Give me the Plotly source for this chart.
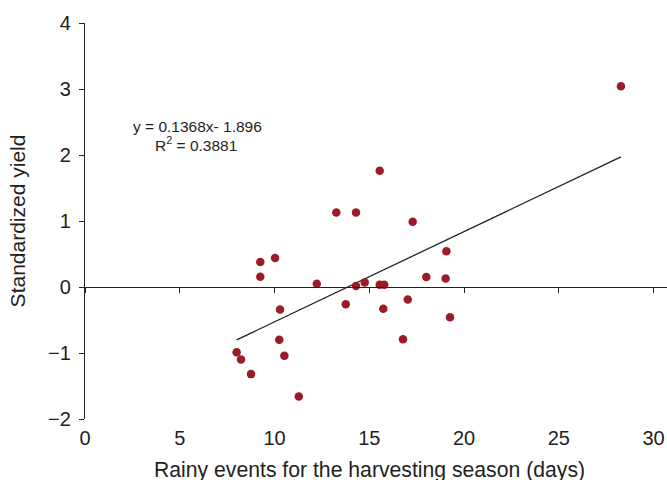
import plotly.graph_objects as go

# Rainy events during the harvesting season (days) vs. standardized yield
rain_days = [8.00, 8.23, 8.76, 9.25, 9.25, 10.03, 10.25, 10.29, 10.52, 11.28,
             12.23, 13.26, 13.76, 14.30, 14.30, 14.76, 15.55, 15.55, 15.74, 15.79,
             16.78, 17.03, 17.29, 18.01, 19.03, 19.07, 19.26, 28.28]
std_yield = [-0.99, -1.10, -1.32, 0.38, 0.155, 0.44, -0.80, -0.34, -1.04, -1.66,
             0.05, 1.13, -0.26, 1.13, 0.015, 0.07, 1.76, 0.035, -0.33, 0.035,
             -0.79, -0.19, 0.99, 0.15, 0.13, 0.54, -0.46, 3.04]

# Linear fit reported on the chart
slope = 0.1368
intercept = -1.896
r_squared = 0.3881

x_ticks = [0, 5, 10, 15, 20, 25, 30]
y_ticks = [-2, -1, 0, 1, 2, 3, 4]

FONT = "Liberation Sans, Arial, sans-serif"
INK = "#231f20"
DOT = "#9b1c26"

x_fit = [min(rain_days), max(rain_days)]
y_fit = [slope * v + intercept for v in x_fit]

fig = go.Figure()
fig.add_trace(go.Scatter(
    x=x_fit, y=y_fit, mode="lines",
    line=dict(color=INK, width=1.3),
    hoverinfo="skip", showlegend=False,
))
fig.add_trace(go.Scatter(
    x=rain_days, y=std_yield, mode="markers",
    marker=dict(color=DOT, size=8.5, line=dict(width=0)),
    showlegend=False,
))
# carrier trace for the axis drawn through y = 0
fig.add_trace(go.Scatter(
    x=[0], y=[0], xaxis="x2", mode="markers",
    marker=dict(opacity=0), hoverinfo="skip", showlegend=False,
))

x_max = 30.71
y_min, y_max = -2, 4

fig.update_layout(
    width=667, height=480,
    margin=dict(l=85, r=0, t=23, b=61),
    paper_bgcolor="white", plot_bgcolor="white",
    font=dict(family=FONT, color=INK),
    xaxis=dict(
        range=[0, x_max], tickvals=x_ticks, showline=False, ticks="",
        showgrid=False, zeroline=False, ticklabelstandoff=5,
        tickfont=dict(size=20, family=FONT, color=INK),
    ),
    xaxis2=dict(
        overlaying="x", matches="x", anchor="free",
        position=(0 - y_min) / (y_max - y_min),
        range=[0, x_max], tickvals=x_ticks, showticklabels=False,
        showline=True, linecolor=INK, linewidth=1.2,
        ticks="outside", ticklen=5, tickwidth=1.2, tickcolor=INK,
        showgrid=False, zeroline=False,
    ),
    yaxis=dict(
        range=[y_min, y_max], tickvals=y_ticks, showline=True,
        linecolor=INK, linewidth=1.2, ticks="outside", ticklen=5,
        tickwidth=1.2, tickcolor=INK, showgrid=False, zeroline=False,
        ticklabelstandoff=4,
        tickfont=dict(size=20, family=FONT, color=INK),
        title=dict(text="Standardized yield", standoff=16,
                   font=dict(size=21, family=FONT, color=INK)),
    ),
    annotations=[
        dict(x=15, y=-0.128, xref="x", yref="paper", yanchor="middle",
             text="Rainy events for the harvesting season (days)",
             showarrow=False, font=dict(size=21.2, family=FONT, color=INK)),
        dict(x=5.96, y=2.43, xref="x", yref="y",
             text=f"y = {slope}x- {abs(intercept)}", showarrow=False,
             font=dict(size=15.5, family=FONT, color=INK)),
        dict(x=5.85, y=2.17, xref="x", yref="y",
             text=f"R<sup>2</sup> = {r_squared}", showarrow=False,
             font=dict(size=15.5, family=FONT, color=INK)),
    ],
)

fig.write_html("out.html")
